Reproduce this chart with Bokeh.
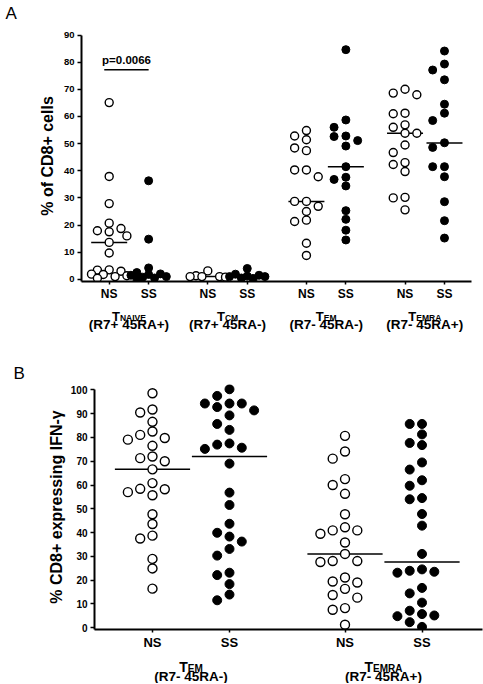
from bokeh.plotting import figure
from bokeh.models import Range1d, FixedTicker
from bokeh.embed import file_html
from bokeh.resources import INLINE
from bokeh.core.properties import value

FONT = "Liberation Sans"

# ---------------- Panel A data: % of CD8+ cells ----------------
a_subsets = ["NAIVE", "CM", "EM", "EMRA"]
a_phenotypes = ["(R7+ 45RA+)", "(R7+ 45RA-)", "(R7- 45RA-)", "(R7- 45RA+)"]
a_groups = ["NS", "SS"]

a_naive_ns = [65.1, 37.9, 27.9, 20.7, 17.9, 17.5, 18.7, 16.0, 13.6, 9.7,
              3.5, 3.4, 3.0, 1.9, 1.8, 1.3, 1.0, 0.4]
a_naive_ss = [36.3, 14.8, 4.2, 2.5, 2.0, 1.8, 1.5, 1.0, 0.8, 0.5, 0.3]
a_cm_ns = [3.1, 1.3, 1.0, 1.0, 1.0, 0.8]
a_cm_ss = [4.0, 1.9, 1.5, 1.2, 1.0, 1.0, 0.5, 0.3]
a_em_ns = [54.8, 52.8, 51.4, 48.4, 47.4, 40.3, 40.3, 37.8, 28.7, 28.7,
           26.9, 25.0, 21.8, 21.3, 13.3, 8.8]
a_em_ss = [84.6, 58.7, 56.0, 52.8, 52.6, 51.1, 49.1, 41.5, 37.6, 36.8,
           34.4, 25.3, 22.1, 18.1, 14.5]
a_emra_ns = [70.0, 68.6, 68.0, 61.2, 61.0, 56.9, 56.0, 53.8, 53.8, 49.5,
             46.7, 43.0, 42.3, 39.7, 30.2, 30.0, 25.6]
a_emra_ss = [84.1, 79.3, 77.1, 73.5, 64.5, 61.2, 58.5, 50.3, 48.6, 41.5,
             41.5, 37.8, 28.6, 21.6, 15.2]
a_median_ns = [13.6, 1.0, 28.7, 53.8]
a_median_ss = [1.0, 0.8, 41.5, 50.2]
a_pvalue = "p=0.0066"
a_pvalue_y = 77.2
a_yticks = [0, 10, 20, 30, 40, 50, 60, 70, 80, 90]
a_ylabel = "% of CD8+ cells"

# ---------------- Panel B data: % CD8+ expressing IFN-γ ----------------
b_subsets = ["EM", "EMRA"]
b_phenotypes = ["(R7- 45RA-)", "(R7- 45RA+)"]
b_em_ns = [98.6, 91.8, 90.5, 86.6, 82.5, 81.1, 79.8, 79.1, 76.5, 72.0,
           71.3, 70.0, 66.6, 60.8, 58.4, 58.2, 57.0, 55.7, 47.7, 43.6,
           38.7, 37.5, 28.9, 24.9, 16.4]
b_em_ss = [100.3, 97.5, 94.3, 94.3, 94.3, 92.8, 91.4, 89.3, 85.7, 83.2,
           77.5, 77.0, 75.7, 75.2, 69.0, 56.8, 51.6, 43.7, 39.9, 38.3,
           36.2, 33.1, 30.3, 23.1, 22.1, 18.3, 13.9, 11.5]
b_emra_ns = [80.7, 74.1, 71.1, 62.5, 60.0, 56.3, 47.7, 42.2, 40.9, 40.9,
             39.5, 35.8, 31.0, 28.0, 28.0, 27.6, 21.1, 19.4, 19.0, 16.3,
             13.7, 12.6, 8.2, 7.5, 1.2]
b_emra_ss = [85.7, 85.7, 81.3, 77.7, 76.8, 69.5, 66.5, 62.0, 59.7, 54.5,
             54.0, 47.8, 42.9, 31.0, 24.5, 23.9, 23.5, 23.1, 16.7, 14.4,
             10.5, 7.1, 5.7, 5.1, 4.8, 2.3, 0.3]
b_median_ns = [66.6, 31.0]
b_median_ss = [72.0, 27.6]
b_yticks = [0, 10, 20, 30, 40, 50, 60, 70, 80, 90, 100]
b_ylabel = "% CD8+ expressing IFN-\u03b3"

panel_letters = ["A", "B"]

# ---------------- helpers ----------------
W = 483
CHAR_W = {"T": 0.611, "N": 0.722, "A": 0.722, "I": 0.278, "V": 0.667,
          "E": 0.667, "C": 0.722, "M": 0.833, "R": 0.722}


def text_w(s, size):
    return sum(CHAR_W.get(c, 0.65) for c in s) * size


def swarm(values, center, step_px, diam_px, px_per_x, px_per_y, cands):
    placed = []
    xs = []
    for v in values:
        best, best_d = cands[0], -1.0
        for c in cands:
            dx = c * step_px
            dmin = min([((dx - px) ** 2 + ((v - pv) * px_per_y) ** 2) ** 0.5
                        for px, pv in placed], default=1e9)
            if dmin >= diam_px:
                best = c
                break
            if dmin > best_d:
                best_d, best = dmin, c
        placed.append((best * step_px, v))
        xs.append(center + best * step_px / px_per_x)
    return xs


def style_axes(p, yticks, ybounds, tick_size, xlab_size, ylabel, lab_standoff):
    p.xgrid.visible = False
    p.ygrid.visible = False
    p.outline_line_color = None
    p.background_fill_color = "white"
    p.border_fill_color = "white"
    for ax in (p.xaxis[0], p.yaxis[0]):
        ax.axis_line_width = 2
        ax.axis_line_color = "black"
        ax.major_tick_line_width = 1.5
        ax.major_tick_line_color = "black"
        ax.major_tick_in = 0
        ax.minor_tick_line_color = None
        ax.major_label_text_font = FONT
        ax.major_label_text_font_style = "bold"
        ax.major_label_text_color = "black"
    p.yaxis[0].ticker = FixedTicker(ticks=yticks)
    p.yaxis[0].bounds = ybounds
    p.yaxis[0].major_tick_out = 4
    p.yaxis[0].major_label_standoff = 3
    p.yaxis[0].major_label_text_font_size = tick_size
    p.yaxis[0].axis_label = ylabel
    p.yaxis[0].axis_label_text_font = FONT
    p.yaxis[0].axis_label_text_font_style = "bold"
    p.yaxis[0].axis_label_text_font_size = "16px"
    p.yaxis[0].axis_label_text_color = "black"
    p.yaxis[0].axis_label_standoff = lab_standoff
    p.xaxis[0].major_tick_out = 3
    p.xaxis[0].major_label_standoff = 2
    p.xaxis[0].major_label_text_font_size = xlab_size


def strip(height, x0, x1):
    s = figure(width=W, height=height, output_backend="svg", toolbar_location=None,
               x_range=Range1d(x0, x1), y_range=Range1d(0, height),
               x_axis_type=None, y_axis_type=None, min_border=0)
    s.outline_line_color = None
    s.background_fill_color = "white"
    s.border_fill_color = "white"
    return s


def group_labels(s, centers, subsets, phenos, t_size, s_size, p_size, t_y, s_y, p_y):
    for c, sub, ph in zip(centers, subsets, phenos):
        wt = text_w("T", t_size)
        ws = text_w(sub, s_size)
        tw = wt + ws
        s.text(x=[c], y=[t_y], text=["T"], x_offset=-tw / 2, text_align="left",
               text_baseline="alphabetic", text_font=value(FONT), text_font_style="bold",
               text_font_size=f"{t_size}px", text_color="black")
        s.text(x=[c], y=[s_y], text=[sub], x_offset=-tw / 2 + wt, text_align="left",
               text_baseline="alphabetic", text_font=value(FONT), text_font_style="bold",
               text_font_size=f"{s_size}px", text_color="black")
        s.text(x=[c], y=[p_y], text=[ph], text_align="center", text_baseline="middle",
               text_font=value(FONT), text_font_style="bold",
               text_font_size=f"{p_size}px", text_color="black")


def override_map(pos_ns, pos_ss, labels):
    ov = {}
    for t in pos_ns:
        ov[t] = labels[0]
        ov[str(t)] = labels[0]
    for t in pos_ss:
        ov[t] = labels[1]
        ov[str(t)] = labels[1]
    return ov


# ================= Panel A =================
A_UNIT = 19.725           # px per x unit
A_YPX = 2.715             # px per y unit
A_LEFT, A_RIGHT = 81, 12
a_x0, a_x1 = -1.404, 18.37
a_pos_ns = [0, 5, 10, 15]
a_pos_ss = [2, 7, 12, 17]
a_ns_sets = [a_naive_ns, a_cm_ns, a_em_ns, a_emra_ns]
a_ss_sets = [a_naive_ss, a_cm_ss, a_em_ss, a_emra_ss]

headA = strip(26, 0, W)
headA.text(x=[5], y=[13], text=[panel_letters[0]], text_align="left",
           text_baseline="middle", text_font=value(FONT), text_font_size="17px",
           text_color="black")

pA = figure(width=W, height=277, output_backend="svg", toolbar_location=None,
            x_range=Range1d(a_x0, a_x1), y_range=Range1d(-0.8, 91.66),
            min_border_left=A_LEFT, min_border_right=A_RIGHT, min_border_top=4,
            min_border_bottom=22)
style_axes(pA, a_yticks, (-0.8, 90), "9.5px", "12px", a_ylabel, 5)
pA.xaxis[0].ticker = FixedTicker(ticks=sorted(a_pos_ns + a_pos_ss))
pA.xaxis[0].major_label_overrides = override_map(a_pos_ns, a_pos_ss, a_groups)

candsA = [0, -1, 1, -0.5, 0.5, -1.5, 1.5]
for i in range(4):
    hw = 18 / A_UNIT
    pA.segment(x0=[a_pos_ns[i] - hw], x1=[a_pos_ns[i] + hw],
               y0=[a_median_ns[i]], y1=[a_median_ns[i]], line_color="black", line_width=1.5)
    pA.segment(x0=[a_pos_ss[i] - hw], x1=[a_pos_ss[i] + hw],
               y0=[a_median_ss[i]], y1=[a_median_ss[i]], line_color="black", line_width=1.5)
    xs = swarm(a_ns_sets[i], a_pos_ns[i], 11.8, 8.5, A_UNIT, A_YPX, candsA)
    pA.scatter(xs, a_ns_sets[i], marker="circle", size=8, fill_color="white",
               line_color="black", line_width=1.4)
    xs = swarm(a_ss_sets[i], a_pos_ss[i], 11.8, 8.5, A_UNIT, A_YPX, candsA)
    pA.scatter(xs, a_ss_sets[i], marker="circle", size=8, fill_color="black",
               line_color="black", line_width=1.0)

pA.segment(x0=[a_pos_ns[0] - 0.25], x1=[a_pos_ss[0]], y0=[a_pvalue_y], y1=[a_pvalue_y],
           line_color="black", line_width=1.5)
pA.text(x=[(a_pos_ns[0] + a_pos_ss[0]) / 2 - 0.12], y=[a_pvalue_y + 1.2], text=[a_pvalue],
        text_align="center", text_baseline="bottom", text_font=value(FONT),
        text_font_style="bold", text_font_size="11.5px", text_color="black")

# strip under panel A: group names + panel letter B
sa0 = a_x0 - A_LEFT / A_UNIT
stripA = strip(81, sa0, sa0 + W / A_UNIT)
group_labels(stripA, [(a + b) / 2 for a, b in zip(a_pos_ns, a_pos_ss)], a_subsets,
             a_phenotypes, 13, 8.5, 13.5, 68.5, 67, 60.5)
stripA.text(x=[sa0 + 13 / A_UNIT], y=[11.5], text=[panel_letters[1]], text_align="left",
            text_baseline="middle", text_font=value(FONT), text_font_size="17px",
            text_color="black")

# ================= Panel B =================
B_UNIT = 38.5
B_YPX = 2.395
B_LEFT, B_RIGHT = 94, 1
b_x0, b_x1 = -1.506, 8.571
b_pos_ns = [0, 5]
b_pos_ss = [2, 7]
b_ns_sets = [b_em_ns, b_emra_ns]
b_ss_sets = [b_em_ss, b_emra_ss]

pB = figure(width=W, height=268, output_backend="svg", toolbar_location=None,
            x_range=Range1d(b_x0, b_x1), y_range=Range1d(-0.8, 102.3),
            min_border_left=B_LEFT, min_border_right=B_RIGHT, min_border_top=0,
            min_border_bottom=21)
style_axes(pB, b_yticks, (-0.8, 100), "10px", "13px", b_ylabel, 3)
pB.xaxis[0].ticker = FixedTicker(ticks=sorted(b_pos_ns + b_pos_ss))
pB.xaxis[0].major_label_overrides = override_map(b_pos_ns, b_pos_ss, a_groups)

candsB = [0, -1, 1, -2, 2]
for i in range(2):
    hw = 37.6 / B_UNIT
    pB.segment(x0=[b_pos_ns[i] - hw], x1=[b_pos_ns[i] + hw],
               y0=[b_median_ns[i]], y1=[b_median_ns[i]], line_color="black", line_width=1.5)
    pB.segment(x0=[b_pos_ss[i] - hw], x1=[b_pos_ss[i] + hw],
               y0=[b_median_ss[i]], y1=[b_median_ss[i]], line_color="black", line_width=1.5)
    xs = swarm(b_ns_sets[i], b_pos_ns[i], 12.3, 9.5, B_UNIT, B_YPX, candsB)
    pB.scatter(xs, b_ns_sets[i], marker="circle", size=9, fill_color="white",
               line_color="black", line_width=1.4)
    xs = swarm(b_ss_sets[i], b_pos_ss[i], 12.3, 9.5, B_UNIT, B_YPX, candsB)
    pB.scatter(xs, b_ss_sets[i], marker="circle", size=9, fill_color="black",
               line_color="black", line_width=1.0)

sb0 = b_x0 - B_LEFT / B_UNIT
stripB = strip(31, sb0, sb0 + W / B_UNIT)
group_labels(stripB, [(a + b) / 2 for a, b in zip(b_pos_ns, b_pos_ss)], b_subsets,
             b_phenotypes, 14, 10, 13.5, 17, 15.5, 7.5)

# separate roots, stacked by the page flow (keeps each figure's own borders)
open("out.html", "w").write(file_html([headA, pA, stripA, pB, stripB], INLINE))
